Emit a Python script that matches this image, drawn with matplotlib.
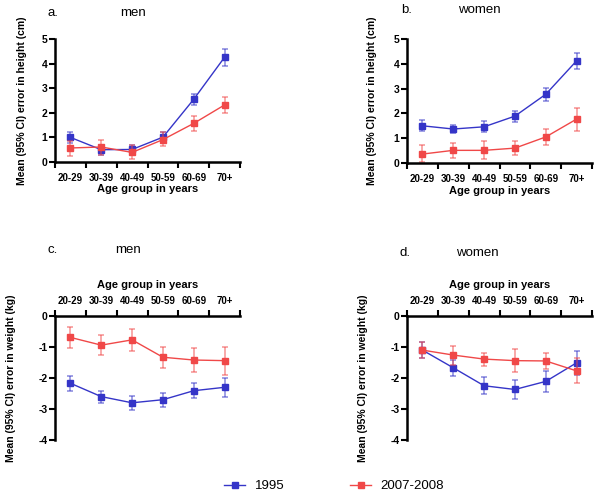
import matplotlib
matplotlib.use("Agg")
import matplotlib.pyplot as plt
import numpy as np

plt.rcParams['font.family'] = ['Liberation Sans', 'DejaVu Sans']

ages = ["20-29", "30-39", "40-49", "50-59", "60-69", "70+"]
series = ["1995", "2007-2008"]

# height, men (cm)
a_1995 = [1.00, 0.50, 0.51, 1.01, 2.55, 4.26]
a_1995_lo = [0.77, 0.30, 0.30, 0.81, 2.32, 3.92]
a_1995_hi = [1.20, 0.70, 0.70, 1.20, 2.77, 4.58]
a_2007 = [0.57, 0.61, 0.39, 0.91, 1.57, 2.32]
a_2007_lo = [0.26, 0.28, 0.11, 0.64, 1.28, 1.99]
a_2007_hi = [0.86, 0.89, 0.68, 1.22, 1.85, 2.66]

# height, women (cm)
b_1995 = [1.50, 1.37, 1.46, 1.89, 2.77, 4.12]
b_1995_lo = [1.30, 1.21, 1.25, 1.65, 2.52, 3.79]
b_1995_hi = [1.74, 1.54, 1.68, 2.10, 3.02, 4.42]
b_2007 = [0.36, 0.51, 0.51, 0.60, 1.05, 1.77]
b_2007_lo = [0.04, 0.20, 0.16, 0.31, 0.71, 1.31]
b_2007_hi = [0.71, 0.79, 0.87, 0.87, 1.37, 2.21]

# weight, men (kg)
c_1995 = [-2.17, -2.60, -2.80, -2.70, -2.41, -2.30]
c_1995_lo = [-2.42, -2.82, -3.03, -2.92, -2.66, -2.60]
c_1995_hi = [-1.94, -2.41, -2.57, -2.47, -2.17, -2.01]
c_2007 = [-0.69, -0.94, -0.77, -1.33, -1.42, -1.44]
c_2007_lo = [-1.04, -1.26, -1.12, -1.69, -1.80, -1.90]
c_2007_hi = [-0.34, -0.62, -0.43, -0.99, -1.04, -1.01]

# weight, women (kg)
d_1995 = [-1.10, -1.67, -2.25, -2.37, -2.11, -1.51]
d_1995_lo = [-1.37, -1.94, -2.52, -2.68, -2.44, -1.90]
d_1995_hi = [-0.85, -1.42, -1.98, -2.06, -1.78, -1.12]
d_2007 = [-1.10, -1.26, -1.39, -1.44, -1.45, -1.77]
d_2007_lo = [-1.37, -1.58, -1.61, -1.80, -1.72, -2.17]
d_2007_hi = [-0.85, -0.96, -1.18, -1.08, -1.18, -1.37]

blue = "#3535c8"
red = "#f04848"

W, H = 600, 499
fig = plt.figure(figsize=(6, 4.99), dpi=100)


def box(l, t, r, b):
    return [l / W, 1 - b / H, (r - l) / W, (b - t) / H]


def panel(rect, letter, who, data, top_axis, ylabel, ylim, yticks, lab_x, letter_xy, who_xy):
    ax = fig.add_axes(box(*rect))
    x = np.arange(len(ages)) + 0.5
    handles = []
    for (m, lo, hi), col in zip(data, [blue, red]):
        m = np.array(m)
        err = [m - np.array(lo), np.array(hi) - m]
        ax.errorbar(x, m, yerr=err, fmt='none', ecolor=col, alpha=0.55,
                    elinewidth=1.2, capsize=2.5, capthick=1.2)
        h, = ax.plot(x, m, '-s', color=col, lw=1, ms=4.5, mec=col)
        handles.append(h)
    ax.set_xlim(0, 6)
    ax.set_ylim(*ylim)
    ax.set_yticks(yticks)
    ax.set_yticklabels([str(v) for v in yticks], fontweight='bold', fontsize=7.5)
    ax.set_xticks(np.arange(7))
    ax.set_xticks(x, minor=True)
    ax.set_xticklabels([], minor=False)
    ax.set_xticklabels(ages, minor=True, fontweight='bold', fontsize=7)
    ax.tick_params(axis='x', which='minor', length=0, pad=8)
    ax.tick_params(axis='both', which='major', width=1.5, length=4, pad=1.5)
    for s in ax.spines.values():
        s.set_linewidth(1.8)
    ax.spines['right'].set_visible(False)
    if top_axis:
        ax.spines['bottom'].set_visible(False)
        ax.xaxis.tick_top()
        ax.xaxis.set_label_position('top')
        ax.tick_params(axis='x', which='minor', pad=7)
        pad = 6
    else:
        ax.spines['top'].set_visible(False)
        pad = 1
    ax.set_xlabel("Age group in years", fontweight='bold', fontsize=8, labelpad=pad)
    ax.set_ylabel(ylabel, fontweight='bold', fontsize=7.5)
    ax.yaxis.set_label_coords(lab_x, 0.5)
    ax.patch.set_visible(False)
    fig.text(letter_xy[0] / W, 1 - letter_xy[1] / H, letter, fontsize=9.5, va='center', ha='left')
    fig.text(who_xy[0] / W, 1 - who_xy[1] / H, who, fontsize=9.5, va='center', ha='center')
    return handles


hlab = "Mean (95% CI) error in height (cm)"
wlab = "Mean (95% CI) error in weight (kg)"

handles = panel((55, 39, 240, 162), "a.", "men",
                [(a_1995, a_1995_lo, a_1995_hi), (a_2007, a_2007_lo, a_2007_hi)],
                False, hlab, (0, 5), [0, 1, 2, 3, 4, 5], -0.15, (48, 13), (133, 13))
panel((407, 39, 592, 163), "b.", "women",
      [(b_1995, b_1995_lo, b_1995_hi), (b_2007, b_2007_lo, b_2007_hi)],
      False, hlab, (0, 5), [0, 1, 2, 3, 4, 5], -0.16, (401, 10), (479, 10))
panel((55, 316, 240, 440), "c.", "men",
      [(c_1995, c_1995_lo, c_1995_hi), (c_2007, c_2007_lo, c_2007_hi)],
      True, wlab, (-4, 0), [-4, -3, -2, -1, 0], -0.21, (47, 250), (128, 250))
panel((407, 316, 592, 440), "d.", "women",
      [(d_1995, d_1995_lo, d_1995_hi), (d_2007, d_2007_lo, d_2007_hi)],
      True, wlab, (-4, 0), [-4, -3, -2, -1, 0], -0.21, (400, 253), (477, 253))

fig.legend(handles, series, loc='center', bbox_to_anchor=(0.557, 1 - 486 / H), ncol=2,
           frameon=False, fontsize=9.5, columnspacing=5, handlelength=1.6, handletextpad=0.7)

fig.savefig("out.png", dpi=100)
